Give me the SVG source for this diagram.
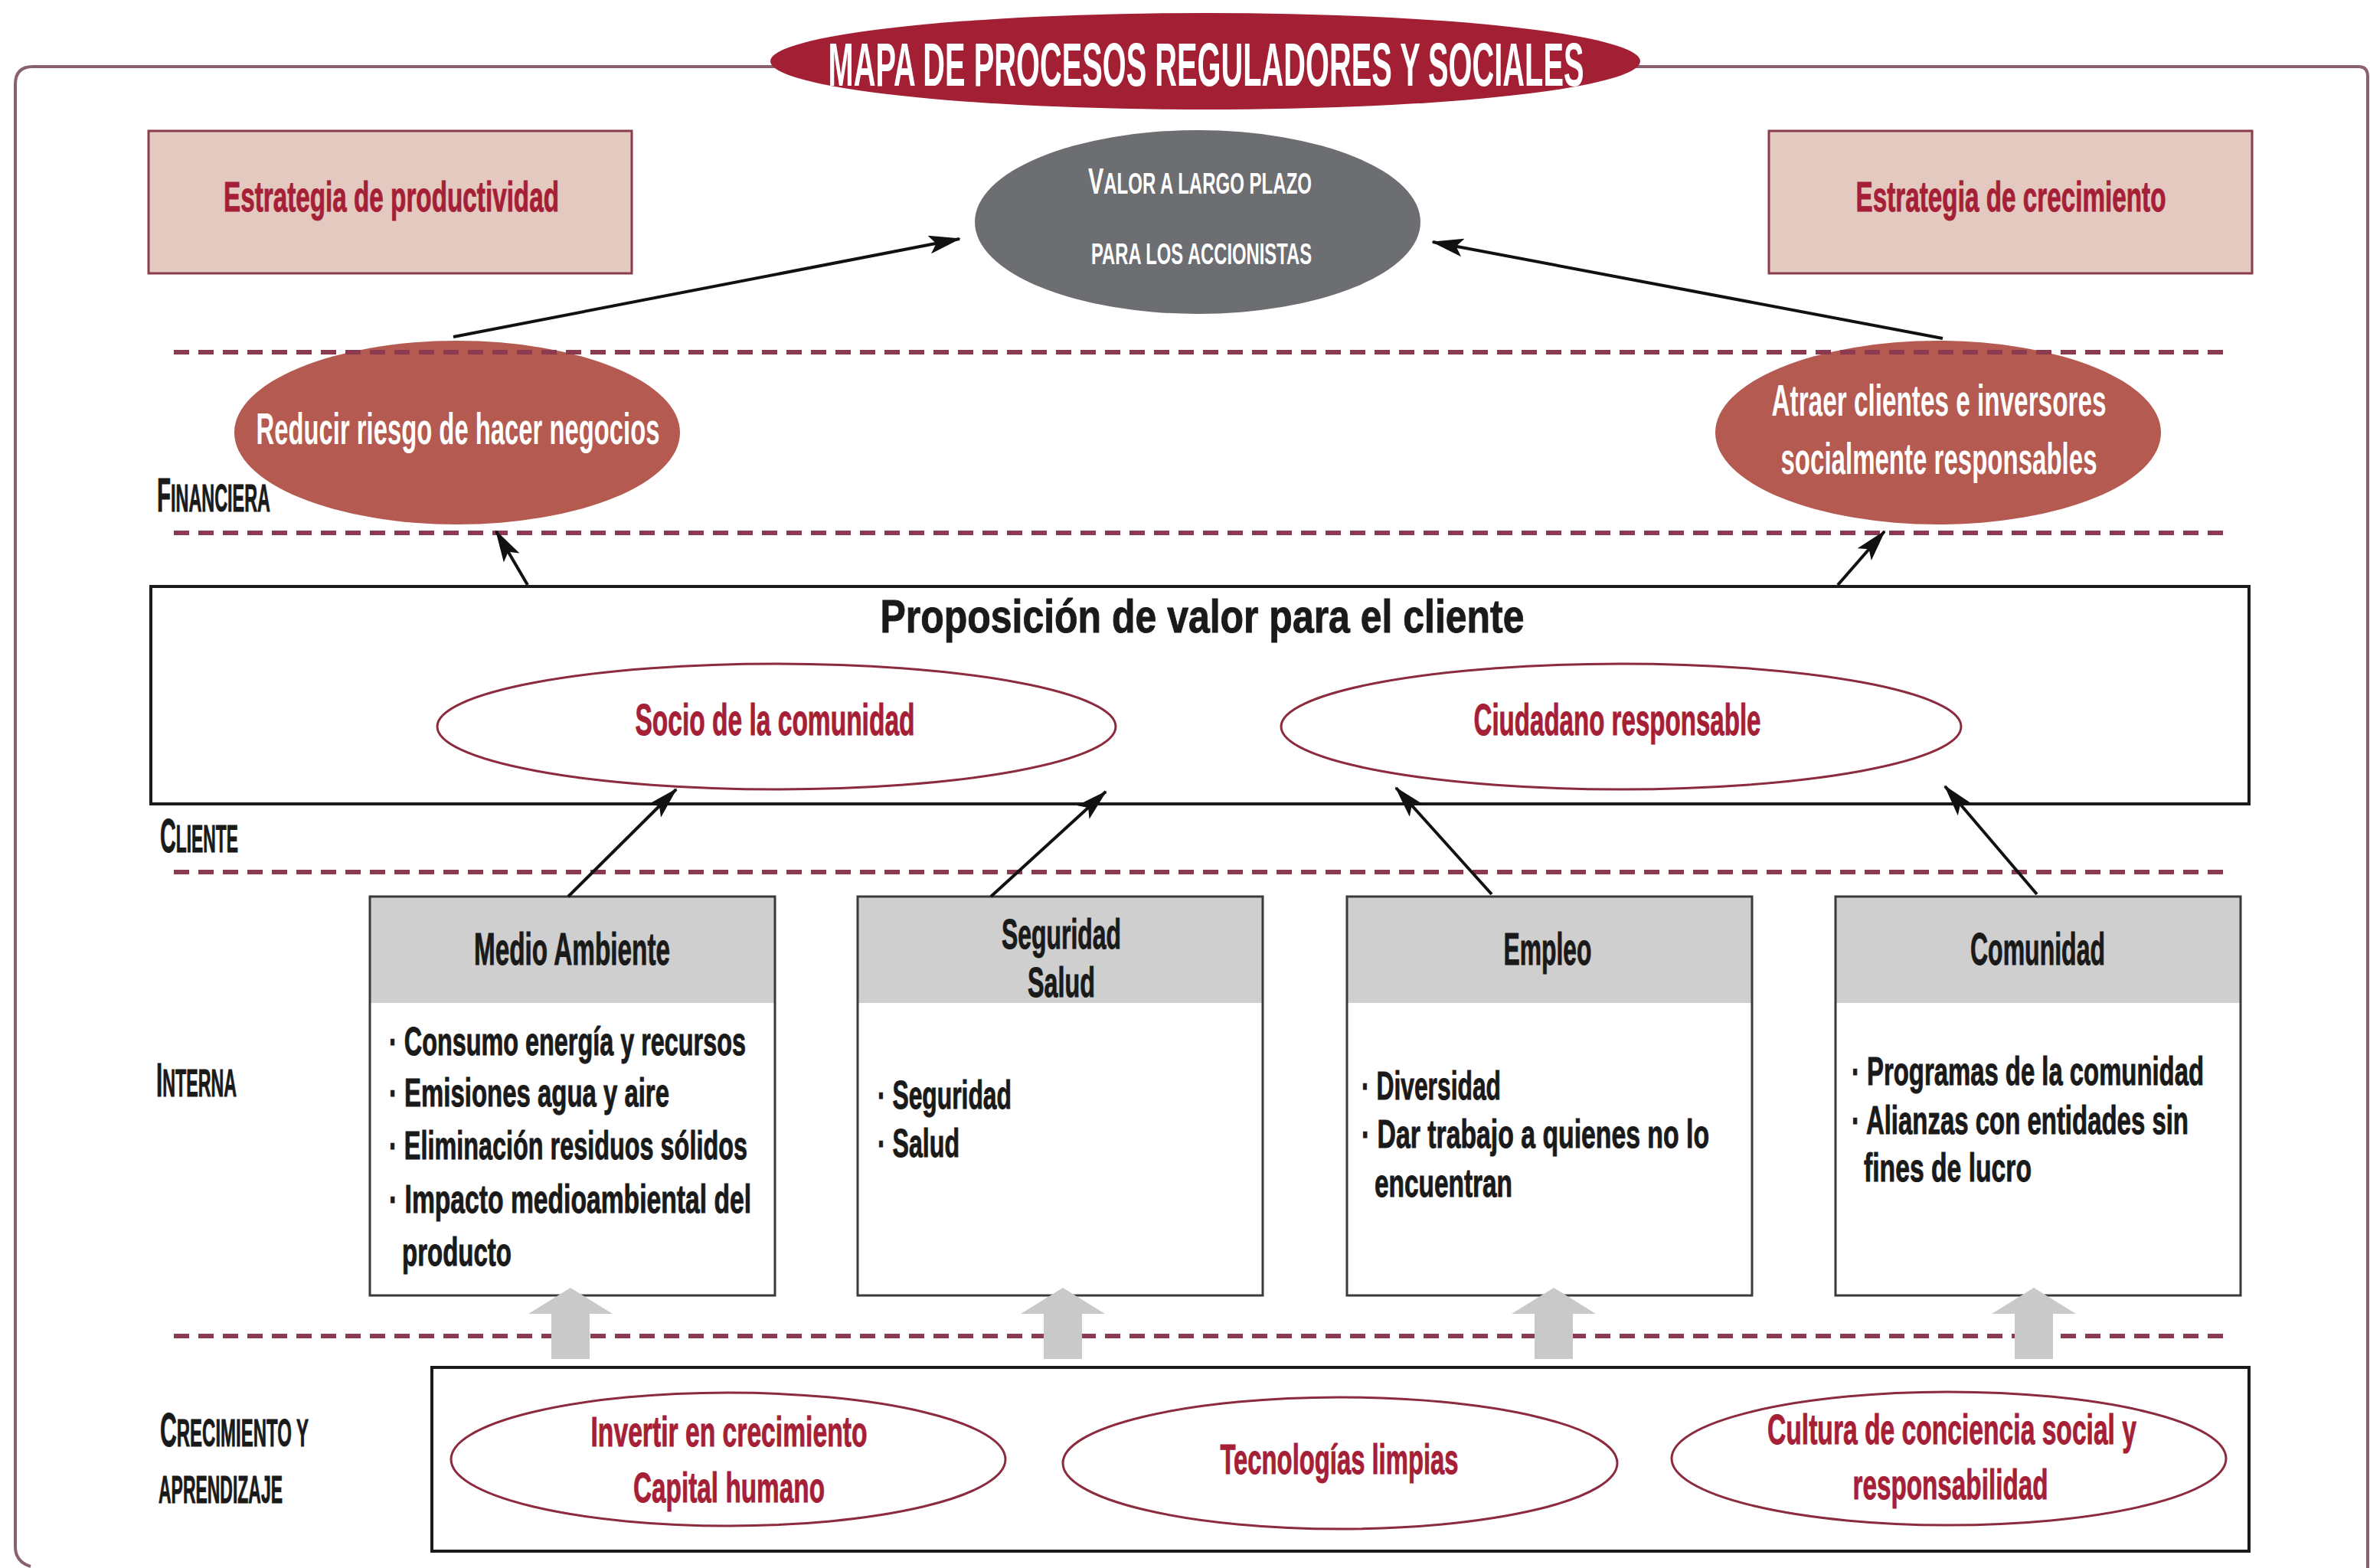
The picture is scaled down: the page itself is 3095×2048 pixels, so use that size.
<svg xmlns="http://www.w3.org/2000/svg" width="3095" height="2048" viewBox="0 0 3095 2048">
  <style>
    .t { font-family: 'Liberation Sans', Arial, sans-serif; font-weight: bold; }
    .red { fill: #a51f37; stroke: #a51f37; stroke-width: 1; }
    .blk { fill: #1a1a1a; stroke: #1a1a1a; stroke-width: 1; }
    .wht { fill: #ffffff; }
    .mid { text-anchor: middle; }
    .dash { stroke: #8b3a50; stroke-width: 6; stroke-dasharray: 20 12; fill: none; }
    .strat { fill: #e3c9bf; stroke: #8a3c4c; stroke-width: 3; }
    .fin { fill: #b45a50; }
    .cust { fill: #ffffff; stroke: #8c2a3e; stroke-width: 3; }
    .body { fill: #ffffff; }
    .edge { fill: none; stroke: #3a3a3a; stroke-width: 3; }
    .head { fill: #cfcfcf; }
    .frame { fill: #ffffff; stroke: #1a1a1a; stroke-width: 4; }
    .conn { stroke: #111111; stroke-width: 4; fill: none; marker-end: url(#tip); }
    .up { fill: #c9c9c9; }
  </style>
  <defs>
    <marker id="tip" markerUnits="userSpaceOnUse" markerWidth="44" markerHeight="24" refX="40" refY="12" orient="auto">
      <path d="M0,0 L42,12 L0,24 L9,12 z" fill="#111111"/>
    </marker>
  </defs>

  <rect width="3095" height="2048" fill="#ffffff"/>

  <!-- outer frame -->
  <path d="M40 2046 Q20 2040 20 2020 V110 Q20 87 43 87 H3080 Q3092 87 3092 100 V2048" fill="none" stroke="#8a6070" stroke-width="4"/>

  <!-- title -->
  <g id="title">
    <ellipse cx="1574" cy="80" rx="568" ry="63" fill="#a31f34"/>
    <text class="t wht mid" x="1575" y="112" font-size="80" textLength="987" lengthAdjust="spacingAndGlyphs">MAPA DE PROCESOS REGULADORES Y SOCIALES</text>
  </g>

  <!-- perspective labels -->
  <g id="labels" class="t blk">
    <text x="205" y="668" font-size="50" textLength="148" lengthAdjust="spacingAndGlyphs"><tspan font-size="63">F</tspan>INANCIERA</text>
    <text x="209" y="1113" font-size="50" textLength="102" lengthAdjust="spacingAndGlyphs"><tspan font-size="63">C</tspan>LIENTE</text>
    <text x="204" y="1432" font-size="50" textLength="105" lengthAdjust="spacingAndGlyphs"><tspan font-size="63">I</tspan>NTERNA</text>
    <text x="209" y="1889" font-size="50" textLength="194" lengthAdjust="spacingAndGlyphs"><tspan font-size="63">C</tspan>RECIMIENTO Y</text>
    <text x="207" y="1963" font-size="50" textLength="162" lengthAdjust="spacingAndGlyphs">APRENDIZAJE</text>
  </g>

  <!-- strategy boxes -->
  <g id="estrategia-productividad">
    <rect class="strat" x="194" y="171" width="631" height="186"/>
    <text class="t red mid" x="511" y="276" font-size="56" textLength="438" lengthAdjust="spacingAndGlyphs">Estrategia de productividad</text>
  </g>
  <g id="estrategia-crecimiento">
    <rect class="strat" x="2310" y="171" width="631" height="186"/>
    <text class="t red mid" x="2626" y="276" font-size="56" textLength="405" lengthAdjust="spacingAndGlyphs">Estrategia de crecimiento</text>
  </g>

  <!-- long term value -->
  <g id="valor-accionistas">
    <ellipse cx="1564" cy="290" rx="291" ry="120" fill="#6d6e71"/>
    <text class="t wht mid" x="1567" y="253" font-size="38" textLength="292" lengthAdjust="spacingAndGlyphs"><tspan font-size="48">V</tspan>ALOR A LARGO PLAZO</text>
    <text class="t wht mid" x="1569" y="345" font-size="38" textLength="288" lengthAdjust="spacingAndGlyphs">PARA LOS ACCIONISTAS</text>
  </g>

  <!-- financial objectives -->
  <g id="reducir-riesgo">
    <ellipse class="fin" cx="597" cy="565" rx="291" ry="120"/>
    <text class="t wht mid" x="598" y="580" font-size="58" textLength="527" lengthAdjust="spacingAndGlyphs">Reducir riesgo de hacer negocios</text>
  </g>
  <g id="atraer-clientes">
    <ellipse class="fin" cx="2531" cy="565" rx="291" ry="120"/>
    <text class="t wht mid" x="2532" y="543" font-size="58" textLength="437" lengthAdjust="spacingAndGlyphs">Atraer clientes e inversores</text>
    <text class="t wht mid" x="2532" y="619" font-size="58" textLength="413" lengthAdjust="spacingAndGlyphs">socialmente responsables</text>
  </g>

  <!-- perspective separators -->
  <g id="separators">
    <line class="dash" x1="227" y1="460" x2="2904" y2="460"/>
    <line class="dash" x1="227" y1="696" x2="2904" y2="696"/>
    <line class="dash" x1="227" y1="1139" x2="2904" y2="1139"/>
    <line class="dash" x1="227" y1="1745" x2="2904" y2="1745"/>
  </g>

  <!-- customer value proposition -->
  <g id="proposicion-valor">
    <rect class="frame" x="197" y="766" width="2740" height="284"/>
    <text class="t blk mid" x="1570" y="826" font-size="62" textLength="841" lengthAdjust="spacingAndGlyphs">Proposición de valor para el cliente</text>
  </g>
  <g id="socio-comunidad">
    <ellipse class="cust" cx="1014" cy="949" rx="443" ry="82"/>
    <text class="t red mid" x="1012" y="960" font-size="58" textLength="365" lengthAdjust="spacingAndGlyphs">Socio de la comunidad</text>
  </g>
  <g id="ciudadano-responsable">
    <ellipse class="cust" cx="2117" cy="949" rx="444" ry="82"/>
    <text class="t red mid" x="2112" y="960" font-size="58" textLength="375" lengthAdjust="spacingAndGlyphs">Ciudadano responsable</text>
  </g>

  <!-- internal processes -->
  <g id="medio-ambiente">
    <rect class="body" x="483" y="1171" width="529" height="521"/>
    <rect class="head" x="483" y="1171" width="529" height="139"/>
    <rect class="edge" x="483" y="1171" width="529" height="521"/>
    <text class="t blk mid" x="747" y="1260" font-size="60" textLength="256" lengthAdjust="spacingAndGlyphs">Medio Ambiente</text>
    <g class="t blk" font-size="52">
      <text x="508" y="1378" textLength="466" lengthAdjust="spacingAndGlyphs">· Consumo energía y recursos</text>
      <text x="508" y="1445" textLength="366" lengthAdjust="spacingAndGlyphs">· Emisiones agua y aire</text>
      <text x="508" y="1514" textLength="468" lengthAdjust="spacingAndGlyphs">· Eliminación residuos sólidos</text>
      <text x="508" y="1584" textLength="473" lengthAdjust="spacingAndGlyphs">· Impacto medioambiental del</text>
      <text x="525" y="1653" textLength="143" lengthAdjust="spacingAndGlyphs">producto</text>
    </g>
  </g>
  <g id="seguridad-salud">
    <rect class="body" x="1120" y="1171" width="529" height="521"/>
    <rect class="head" x="1120" y="1171" width="529" height="139"/>
    <rect class="edge" x="1120" y="1171" width="529" height="521"/>
    <text class="t blk mid" x="1386" y="1239" font-size="56" textLength="156" lengthAdjust="spacingAndGlyphs">Seguridad</text>
    <text class="t blk mid" x="1386" y="1302" font-size="56" textLength="88" lengthAdjust="spacingAndGlyphs">Salud</text>
    <g class="t blk" font-size="52">
      <text x="1146" y="1448" textLength="175" lengthAdjust="spacingAndGlyphs">· Seguridad</text>
      <text x="1146" y="1511" textLength="107" lengthAdjust="spacingAndGlyphs">· Salud</text>
    </g>
  </g>
  <g id="empleo">
    <rect class="body" x="1759" y="1171" width="529" height="521"/>
    <rect class="head" x="1759" y="1171" width="529" height="139"/>
    <rect class="edge" x="1759" y="1171" width="529" height="521"/>
    <text class="t blk mid" x="2021" y="1260" font-size="60" textLength="115" lengthAdjust="spacingAndGlyphs">Empleo</text>
    <g class="t blk" font-size="52">
      <text x="1778" y="1436" textLength="182" lengthAdjust="spacingAndGlyphs">· Diversidad</text>
      <text x="1778" y="1499" textLength="454" lengthAdjust="spacingAndGlyphs">· Dar trabajo a quienes no lo</text>
      <text x="1795" y="1563" textLength="180" lengthAdjust="spacingAndGlyphs">encuentran</text>
    </g>
  </g>
  <g id="comunidad">
    <rect class="body" x="2397" y="1171" width="529" height="521"/>
    <rect class="head" x="2397" y="1171" width="529" height="139"/>
    <rect class="edge" x="2397" y="1171" width="529" height="521"/>
    <text class="t blk mid" x="2661" y="1260" font-size="60" textLength="176" lengthAdjust="spacingAndGlyphs">Comunidad</text>
    <g class="t blk" font-size="52">
      <text x="2418" y="1417" textLength="460" lengthAdjust="spacingAndGlyphs">· Programas de la comunidad</text>
      <text x="2418" y="1481" textLength="440" lengthAdjust="spacingAndGlyphs">· Alianzas con entidades sin</text>
      <text x="2434" y="1543" textLength="219" lengthAdjust="spacingAndGlyphs">fines de lucro</text>
    </g>
  </g>

  <!-- learning and growth -->
  <g id="aprendizaje-crecimiento">
    <rect class="frame" x="564" y="1786" width="2373" height="240"/>
  </g>
  <g id="invertir-crecimiento">
    <ellipse class="cust" cx="951" cy="1906" rx="362" ry="87"/>
    <text class="t red mid" x="952" y="1889" font-size="56" textLength="361" lengthAdjust="spacingAndGlyphs">Invertir en crecimiento</text>
    <text class="t red mid" x="952" y="1962" font-size="56" textLength="250" lengthAdjust="spacingAndGlyphs">Capital humano</text>
  </g>
  <g id="tecnologias-limpias">
    <ellipse class="cust" cx="1750" cy="1911" rx="362" ry="86"/>
    <text class="t red mid" x="1749" y="1925" font-size="56" textLength="311" lengthAdjust="spacingAndGlyphs">Tecnologías limpias</text>
  </g>
  <g id="cultura-conciencia">
    <ellipse class="cust" cx="2545" cy="1905" rx="362" ry="87"/>
    <text class="t red mid" x="2549" y="1886" font-size="56" textLength="482" lengthAdjust="spacingAndGlyphs">Cultura de conciencia social y</text>
    <text class="t red mid" x="2547" y="1958" font-size="56" textLength="255" lengthAdjust="spacingAndGlyphs">responsabilidad</text>
  </g>

  <!-- connectors -->
  <g id="connectors">
    <line class="conn" x1="592" y1="440" x2="1253" y2="312"/>
    <line class="conn" x1="2537" y1="442" x2="1871" y2="316"/>
    <line class="conn" x1="689" y1="764" x2="648" y2="694"/>
    <line class="conn" x1="2400" y1="764" x2="2461" y2="694"/>
    <line class="conn" x1="742" y1="1171" x2="883" y2="1031"/>
    <line class="conn" x1="1294" y1="1171" x2="1444" y2="1034"/>
    <line class="conn" x1="1948" y1="1168" x2="1823" y2="1029"/>
    <line class="conn" x1="2660" y1="1168" x2="2540" y2="1027"/>
    <g class="up">
      <path d="M745 1682 L800 1716 L770 1716 L770 1775 L720 1775 L720 1716 L690 1716 Z"/>
      <path d="M1388 1682 L1443 1716 L1413 1716 L1413 1775 L1363 1775 L1363 1716 L1333 1716 Z"/>
      <path d="M2029 1682 L2084 1716 L2054 1716 L2054 1775 L2004 1775 L2004 1716 L1974 1716 Z"/>
      <path d="M2656 1682 L2711 1716 L2681 1716 L2681 1775 L2631 1775 L2631 1716 L2601 1716 Z"/>
    </g>
  </g>
</svg>
